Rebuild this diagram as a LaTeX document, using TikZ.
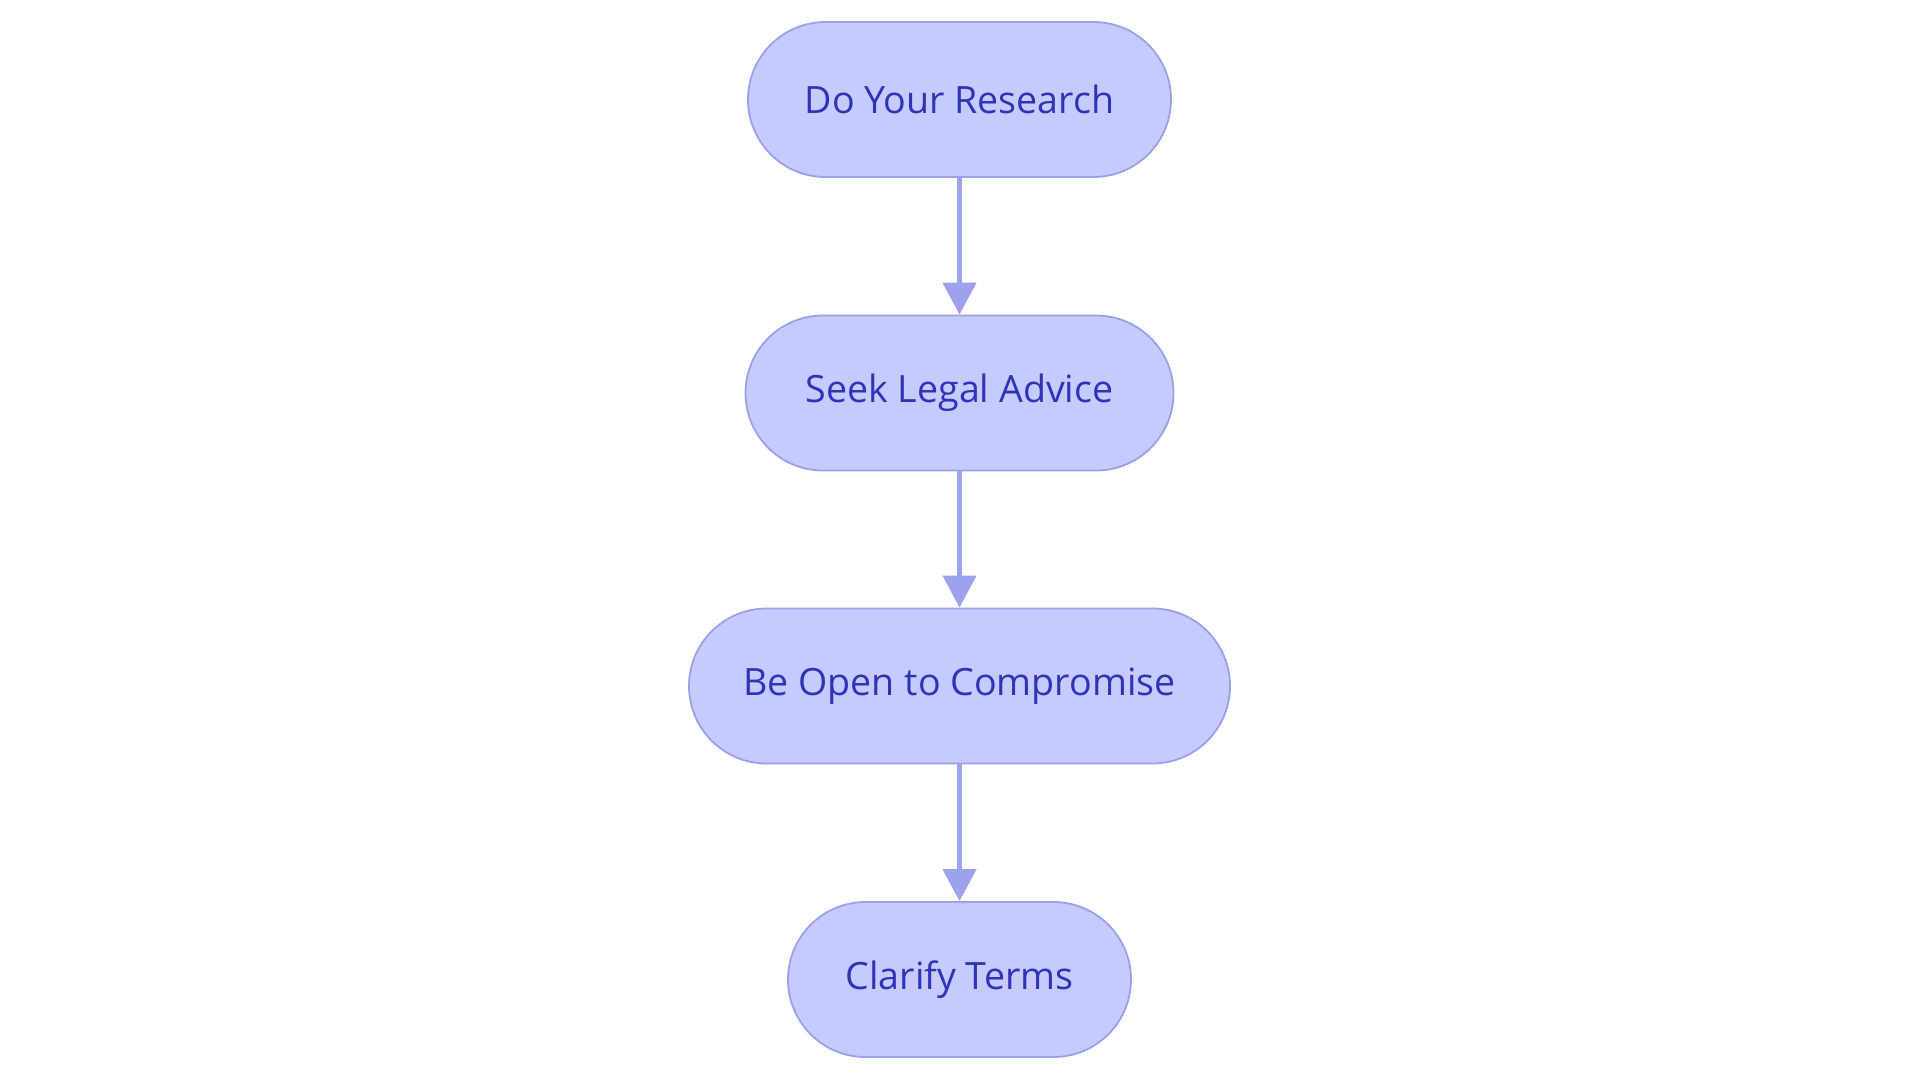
\documentclass[tikz,border=0pt]{standalone}
\usepackage{fontspec}
\setmainfont{Open Sans}
\usetikzlibrary{arrows.meta}
\definecolor{stepfill}{HTML}{C7CAFE}
\definecolor{stepline}{HTML}{9BA0EA}
\definecolor{steptext}{HTML}{2E33B8}
\definecolor{flowline}{HTML}{9CA2EC}
\begin{document}
\begin{tikzpicture}[
  x=1pt, y=1pt,
  stepbox/.style={draw=stepline, fill=stepfill, line width=0.9pt,
    rounded corners=38.75pt, minimum height=77.5pt, text=steptext,
    font=\fontsize{18.8}{22}\selectfont},
  flow/.style={draw=flowline, line width=2.2pt,
    -{Triangle[width=16.5pt,length=16pt]}},
]
\useasboundingbox (0,0) rectangle (960,-541.5);
% four steps, top to bottom
\node[stepbox, minimum width=211.5pt] (research) at (479.75,-49.75) {Do Your Research};
\node[stepbox, minimum width=214pt] (advice) at (479.75,-196.5) {Seek Legal Advice};
\node[stepbox, minimum width=270.5pt] (compromise) at (479.75,-343) {Be Open to Compromise};
\node[stepbox, minimum width=171.5pt] (terms) at (479.75,-489.75) {Clarify Terms};
\draw[flow] (research) -- (advice);
\draw[flow] (advice) -- (compromise);
\draw[flow] (compromise) -- (terms);
\end{tikzpicture}
\end{document}
